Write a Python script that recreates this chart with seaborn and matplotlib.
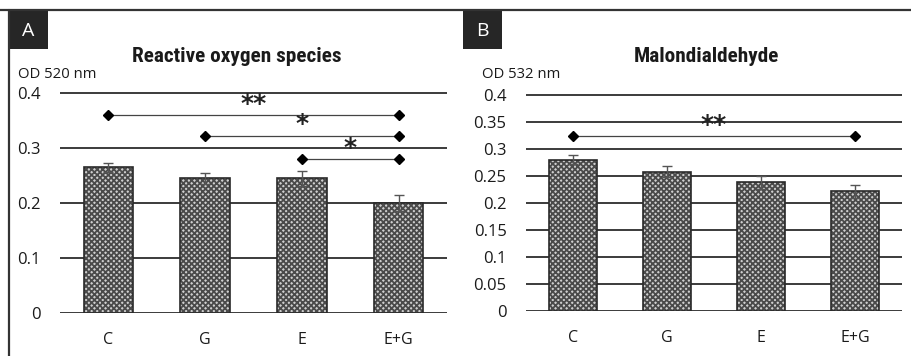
import matplotlib
matplotlib.use("Agg")
import matplotlib.pyplot as plt
import seaborn as sns
import pandas as pd
from matplotlib.patches import Rectangle
from matplotlib.lines import Line2D

categories = ["C", "G", "E", "E+G"]
ros_values = [0.265, 0.245, 0.245, 0.200]
ros_errors = [0.008, 0.010, 0.014, 0.014]
mda_values = [0.280, 0.258, 0.238, 0.222]
mda_errors = [0.008, 0.010, 0.012, 0.012]
ros_ticks = [0, 0.1, 0.2, 0.3, 0.4]
ros_tick_labels = ["0", "0.1", "0.2", "0.3", "0.4"]
mda_ticks = [0, 0.05, 0.1, 0.15, 0.2, 0.25, 0.3, 0.35, 0.4]
mda_tick_labels = ["0", "0.05", "0.1", "0.15", "0.2", "0.25", "0.3", "0.35", "0.4"]
ros_sig = [(0, 3, 0.36, "**"), (1, 3, 0.322, "*"), (2, 3, 0.28, "*")]
mda_sig = [(0, 3, 0.324, "**")]

sns.set_style("white")
plt.rcParams["font.family"] = ["Open Sans", "DejaVu Sans"]
plt.rcParams["hatch.linewidth"] = 1.3

fig = plt.figure(figsize=(9.11, 3.56), dpi=100)

def panel(rect, values, errors, ticks, tick_labels, sig, title, title_x, ylabel, ylabel_x, letter, letter_x):
    ax = fig.add_axes(rect)
    df = pd.DataFrame({"cat": categories, "val": values})
    sns.barplot(data=df, x="cat", y="val", ax=ax, color="#cfcfcf", width=0.51,
                edgecolor="#4a4a4a", linewidth=0, hatch="xxxxxx", errorbar=None, zorder=3)
    for p in list(ax.patches):
        ax.add_patch(Rectangle((p.get_x(), p.get_y()), p.get_width(), p.get_height(),
                               fill=False, edgecolor="#2a2a2a", lw=1.2, zorder=4))
    ax.errorbar(range(len(categories)), values, yerr=errors, fmt="none",
                ecolor="#555555", elinewidth=1.0, capsize=3.5, capthick=1.0, zorder=5)
    ax.set_ylim(0, 0.405)
    ax.set_xlim(-0.5, 3.5)
    ax.set_yticks(ticks)
    ax.set_yticklabels(tick_labels)
    ax.yaxis.grid(True, color="#1a1a1a", lw=1.2, zorder=1)
    ax.set_axisbelow(True)
    for s in ax.spines.values():
        s.set_visible(False)
    ax.tick_params(axis="y", length=0, pad=14, labelsize=12, colors="#1a1a1a")
    ax.tick_params(axis="x", length=0, pad=14, labelsize=11.5, colors="#1a1a1a")
    ax.set_xlabel("")
    ax.set_ylabel("")
    for i0, i1, y, star in sig:
        ax.plot([i0, i1], [y, y], color="#444444", lw=0.9, marker="D", markersize=5.5,
                markerfacecolor="black", markeredgecolor="black", zorder=6, clip_on=False)
        ax.text((i0 + i1) / 2, y - 0.001, star, ha="center", va="bottom", fontsize=18,
                fontweight="bold", color="#222222", family="DejaVu Sans", zorder=7)
    fig.text(title_x, 1 - 57 / 356, title, ha="center", va="center", fontsize=15.3,
             fontweight="bold", family=["Liberation Sans Narrow", "Roboto Condensed", "Roboto"], color="#1a1a1a")
    fig.text(ylabel_x, 1 - 74 / 356, ylabel, ha="left", va="center", fontsize=10.7, color="#1a1a1a")
    fig.patches.append(Rectangle((letter_x / 911, 1 - 49 / 356), 39 / 911, 38 / 356,
                                 transform=fig.transFigure, facecolor="#262626", edgecolor="none"))
    fig.text((letter_x + 19.5) / 911, 1 - 31 / 356, letter, ha="center", va="center",
             fontsize=14, color="white")
    return ax

panel([60 / 911, 43 / 356, 387 / 911, 0.405 * 550 / 356], ros_values, ros_errors, ros_ticks,
      ros_tick_labels, ros_sig, "Reactive oxygen species", 237 / 911, "OD 520 nm", 18 / 911, "A", 9)
panel([526 / 911, 45 / 356, 376 / 911, 0.405 * 540 / 356], mda_values, mda_errors, mda_ticks,
      mda_tick_labels, mda_sig, "Malondialdehyde", 706 / 911, "OD 532 nm", 482 / 911, "B", 463)

fig.lines.append(Line2D([0, 1], [1 - 10 / 356, 1 - 10 / 356], transform=fig.transFigure,
                        color="#333333", lw=1.6))
fig.lines.append(Line2D([9 / 911, 9 / 911], [0, 1 - 10 / 356], transform=fig.transFigure,
                        color="#333333", lw=1.6))

fig.savefig("out.png", dpi=100)
